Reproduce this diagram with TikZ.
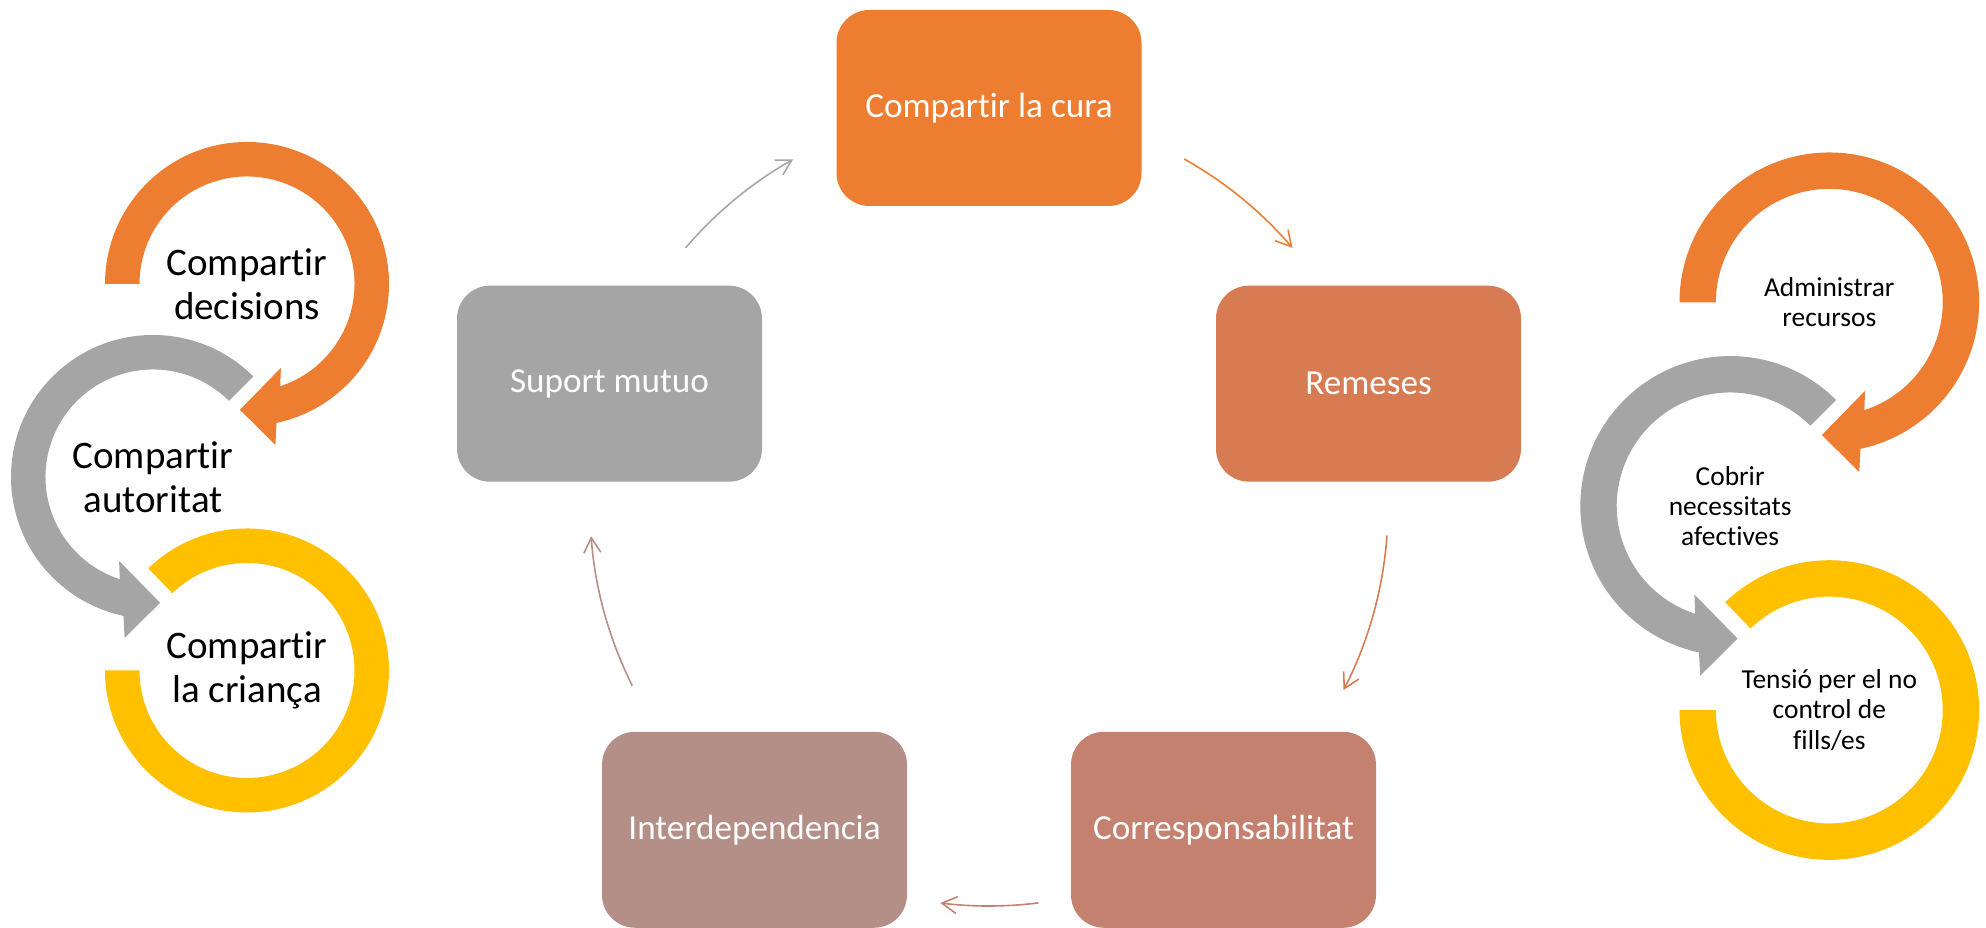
\documentclass[tikz,border=0pt]{standalone}
\usepackage{fontspec}
\setmainfont{Carlito}[Ligatures={NoCommon}]
\usepackage{xcolor}
\usepackage{tikz}
\usetikzlibrary{arrows.meta}

\definecolor{ccura}{HTML}{ED7D31}
\definecolor{cremeses}{HTML}{D77B53}
\definecolor{ccorresp}{HTML}{C48170}
\definecolor{cinterdep}{HTML}{B48F88}
\definecolor{csuport}{HTML}{A5A5A5}
\definecolor{cgroc}{HTML}{FFC000}

\begin{document}
\begin{tikzpicture}[
        box/.style={rounded corners=0.33cm, minimum width=3.05cm, minimum height=1.96cm, inner sep=0pt, text=white, font=\fontsize{10}{12}\selectfont},
        link/.style={draw=#1, line width=0.45pt, -{Straight Barb[length=1.5mm,width=1.7mm]}},
        big/.style={align=center, font=\fontsize{11.1}{12.5}\selectfont},
        small/.style={align=center, font=\fontsize{7.8}{8.6}\selectfont}]
        \useasboundingbox (0,0) rectangle (19.86,9.28);

        \node[box, fill=ccura] (cura) at (9.89,8.20) {Compartir la cura};
        \node[box, fill=cremeses] (remeses) at (13.685,5.443) {Remeses};
        \node[box, fill=ccorresp] (corresp) at (12.235,0.982) {Corresponsabilitat};
        \node[box, fill=cinterdep] (interdep) at (7.545,0.982) {Interdependencia};
        \node[box, fill=csuport] (suport) at (6.095,5.443) {Suport mutuo};

        \coordinate (hub) at (9.89,4.21);
        \coordinate (suport-out) at ([shift={(139.5:3.99)}]hub);
        \coordinate (cura-out) at ([shift={(60.7:3.99)}]hub);
        \coordinate (remeses-out) at ([shift={(-4.1:3.99)}]hub);
        \coordinate (corresp-out) at ([shift={(-82.9:3.99)}]hub);
        \coordinate (interdep-out) at ([shift={(-153.4:3.99)}]hub);
        \draw[link=csuport] (suport-out) arc[start angle=139.5, end angle=119.4, radius=3.99];
        \draw[link=ccura] (cura-out) arc[start angle=60.7, end angle=40.5, radius=3.99];
        \draw[link=cremeses] (remeses-out) arc[start angle=-4.1, end angle=-27.3, radius=3.99];
        \draw[link=ccorresp] (corresp-out) arc[start angle=-82.9, end angle=-97.0, radius=3.99];
        \draw[link=cinterdep] (interdep-out) arc[start angle=-153.4, end angle=-175.8, radius=3.99];

        \begin{scope}[shift={(2.47,6.44)}]
        \fill[ccura] (180:1.42) arc[start angle=180, end angle=-78, radius=1.42] -- (-80:1.635) -- (-93.2:1.26) -- (-68:0.905) -- (-72:1.075) arc[start angle=-72, end angle=180, radius=1.075] -- cycle;
        \fill[csuport, shift={(-0.94,-1.93)}] (45:1.42) arc[start angle=45, end angle=258, radius=1.42] -- (260:1.635) -- (273.2:1.26) -- (248:0.905) -- (252:1.075) arc[start angle=252, end angle=45, radius=1.075] -- cycle;
        \fill[cgroc, shift={(0,-3.865)}] (134:1.42) arc[start angle=134, end angle=-180, radius=1.42] -- (180:1.075) arc[start angle=-180, end angle=134, radius=1.075] -- cycle;
        \node[big] (decisions) at (0,0) {Compartir\\decisions};
        \node[big] (autoritat) at (-0.94,-1.93) {Compartir\\autoritat};
        \node[big] (crianca) at (0,-3.865) {Compartir\\la criança};
        \end{scope}

        \begin{scope}[shift={(18.293,6.257)}, scale=1.055]
        \fill[ccura] (180:1.42) arc[start angle=180, end angle=-78, radius=1.42] -- (-80:1.635) -- (-93.2:1.26) -- (-68:0.905) -- (-72:1.075) arc[start angle=-72, end angle=180, radius=1.075] -- cycle;
        \fill[csuport, shift={(-0.94,-1.93)}] (45:1.42) arc[start angle=45, end angle=258, radius=1.42] -- (260:1.635) -- (273.2:1.26) -- (248:0.905) -- (252:1.075) arc[start angle=252, end angle=45, radius=1.075] -- cycle;
        \fill[cgroc, shift={(0,-3.865)}] (134:1.42) arc[start angle=134, end angle=-180, radius=1.42] -- (180:1.075) arc[start angle=-180, end angle=134, radius=1.075] -- cycle;
        \node[small] (recursos) at (0,0) {Administrar\\recursos};
        \node[small] (afectives) at (-0.94,-1.93) {Cobrir\\necessitats\\afectives};
        \node[small] (fills) at (0,-3.865) {Tensió per el no\\control de\\fills/es};
        \end{scope}
      \end{tikzpicture}
\end{document}
